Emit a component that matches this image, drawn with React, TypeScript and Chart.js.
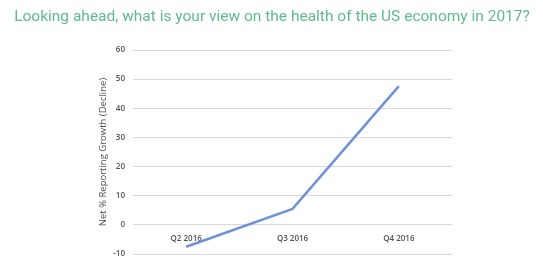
import React, { useEffect, useRef } from "react";
import { Chart, registerables } from "chart.js";

Chart.register(...registerables);

const categories = ["Q2 2016", "Q3 2016", "Q4 2016"];
const netGrowth = [-7.5, 5.5, 47.6];
const yMin = -10;
const yMax = 60;
const yStep = 10;
const titleText = "Looking ahead, what is your view on the health of the US economy in 2017?";
const yTitleText = "Net % Reporting Growth (Decline)";

const titlePlugin = {
  id: "customTitle",
  afterDraw(chart: any) {
    const ctx = chart.ctx as CanvasRenderingContext2D;
    ctx.save();
    ctx.font = "normal 15.5px Roboto";
    ctx.fillStyle = "#5fba8c";
    ctx.textAlign = "center";
    ctx.textBaseline = "alphabetic";
    ctx.fillText(titleText, 272, 21);
    ctx.restore();
  },
};

export default function App() {
  const ref = useRef<HTMLCanvasElement>(null);
  useEffect(() => {
    document.body.style.margin = "0";
    const ctx = ref.current!;
    const chart = new Chart(ctx, {
      type: "line",
      data: {
        labels: categories,
        datasets: [
          {
            data: netGrowth,
            borderColor: "#6f93d6",
            borderWidth: 2.5,
            pointRadius: 0,
            tension: 0,
            fill: false,
          },
        ],
      },
      plugins: [titlePlugin],
      options: {
        animation: false,
        responsive: false,
        maintainAspectRatio: false,
        layout: { padding: { left: 0, right: 91, top: 50, bottom: 15 } },
        plugins: {
          legend: { display: false },
          tooltip: { enabled: false },
          title: { display: false },
        },
        scales: {
          x: {
            type: "category",
            position: { y: 0 } as any,
            offset: true,
            grid: { display: false, drawTicks: false },
            border: { display: false },
            ticks: {
              color: "#505050",
              font: { family: "Open Sans", size: 8, weight: "600" },
              padding: 9,
              maxRotation: 0,
            },
          },
          y: {
            min: yMin,
            max: yMax,
            ticks: {
              stepSize: yStep,
              color: "#505050",
              font: { family: "Open Sans", size: 8, weight: "600" },
              padding: 8,
            },
            grid: { color: "#d9d9d9", lineWidth: 1, drawTicks: false },
            border: { display: false },
            title: {
              display: true,
              text: yTitleText,
              color: "#505050",
              font: { family: "Open Sans", size: 9.5 },
              padding: { top: 98, bottom: 0 },
            },
            afterFit: (scale: any) => {
              scale.width = 133;
            },
          },
        },
      },
    });
    return () => chart.destroy();
  }, []);
  return <canvas ref={ref} width={543} height={269} style={{ display: "block" }} />;
}
